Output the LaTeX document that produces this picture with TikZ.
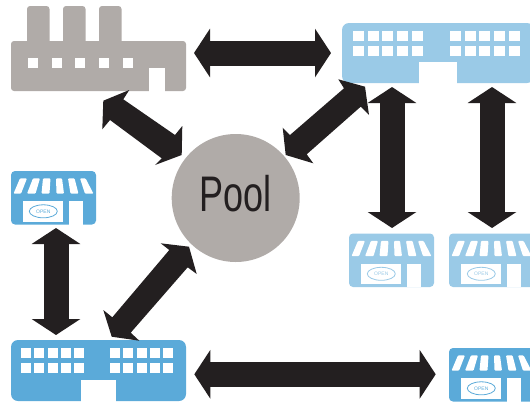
\documentclass[tikz,border=0pt]{standalone}
\usepackage{fontspec}
\setmainfont{Liberation Sans}
\newfontfamily\poolfont{Liberation Sans}[FakeStretch=0.72]
\usetikzlibrary{arrows.meta}
\definecolor{stonegrey}{HTML}{B0ABA8}
\definecolor{paleblue}{HTML}{9ACAE7}
\definecolor{midblue}{HTML}{5BAAD9}
\definecolor{inkblack}{HTML}{231F20}
\tikzset{
  iconbody/.style={anchor=north west,inner sep=0pt,outer sep=0pt,rounded corners=4pt},
  hole/.style={fill=white,draw=none},
  flow/.style={draw=inkblack,line width=25pt,{Triangle[length=16pt,width=48pt,fill=inkblack]}-{Triangle[length=16pt,width=48pt,fill=inkblack]}},
  slantflow/.style={fill=inkblack,draw=none},
}
\newcommand{\shopicon}[4]{%
  \node[iconbody,fill=#4,minimum width=85pt,minimum height=53.5pt] (#1) at (#2,#3) {};
  \begin{scope}[shift={(#2,#3)}]
    \foreach \ta/\tb/\ba/\bb in {9/16/2.5/10,22/29/16/24.5,32/39.5/30.5/38.5,45/51/45.5/53,57/63.5/59.5/67.5,69/74.5/74/82.5}{
      \fill[hole,rounded corners=1pt] (\ta,7.3) -- (\tb,7.3) -- (\bb,22.7) -- (\ba,22.7) -- cycle;
    }
    \fill[hole] (12.3,30) rectangle (52.3,50.7);
    \fill[hole] (58,30) rectangle (72.3,53.6);
    \draw[#4,line width=0.8pt] (32.3,40.3) ellipse [x radius=14,y radius=6.5];
    \node[inner sep=0pt,text=#4,font=\fontsize{5}{5}\selectfont] (#1label) at (32.3,40.3) {OPEN};
  \end{scope}
}
\begin{document}
\begin{tikzpicture}[x=1pt,y=-1pt]
\useasboundingbox (0,0) rectangle (530,402);
\clip (0,0) rectangle (530,402);

% factory
\foreach \cx in {27,63,99}{
  \fill[stonegrey,rounded corners=3pt] (\cx,6) rectangle (\cx+22.5,50);
}
\node[iconbody,fill=stonegrey,minimum width=175pt,minimum height=50pt,rounded corners=3pt] (factory) at (11,41) {};
\foreach \wx in {28,51.7,75.3,99,122.5}{
  \fill[hole] (\wx,58) rectangle (\wx+10,68);
}
\fill[hole] (149,68) rectangle (164.5,92);

% upper warehouse
\node[iconbody,fill=paleblue,minimum width=192pt,minimum height=60pt,rounded corners=7pt] (upper) at (342,23) {};
\foreach \wx in {353,367.7,382.3,397,411.5,450,464.7,479.3,494,508.5}{
  \fill[hole] (\wx,31) rectangle (\wx+11,41);
  \fill[hole] (\wx,46) rectangle (\wx+11,56);
}
\fill[hole] (419,62) rectangle (457,84);

% lower warehouse
\node[iconbody,fill=midblue,minimum width=175pt,minimum height=61pt,rounded corners=7pt] (lower) at (11,340) {};
\foreach \wx in {21,34.3,47.7,61,74.3,110,123.3,136.7,150,163.3}{
  \fill[hole] (\wx,348) rectangle (\wx+10,358);
  \fill[hole] (\wx,363) rectangle (\wx+10,373);
}
\fill[hole] (81.3,379.5) rectangle (116,402);

% shops
\shopicon{shopA}{11}{171}{midblue}
\shopicon{shopB}{349}{233.5}{paleblue}
\shopicon{shopC}{449}{233.5}{paleblue}
\shopicon{shopD}{449}{348}{midblue}

% pool
\node[circle,fill=stonegrey,minimum size=128pt,inner sep=0pt] (pool) at (235.7,198) {};
\node[text=inkblack,inner sep=0pt,font=\poolfont\fontsize{50}{50}\selectfont] (poollabel) at (235.7,194) {Pool};

% connector ends
\coordinate (fRight) at (194,53);
\coordinate (uLeft) at (331,53);
\coordinate (fPool) at (103.3,100.7);
\coordinate (pFact) at (181.7,155);
\coordinate (uPool) at (365,86.7);
\coordinate (pUp) at (285.7,155);
\coordinate (u1) at (392,87);
\coordinate (b1) at (392,228);
\coordinate (u2) at (492,87);
\coordinate (c1) at (492,228);
\coordinate (a1) at (56,228);
\coordinate (l1) at (56,335);
\coordinate (pLow) at (189,246.7);
\coordinate (lPool) at (111.7,336.7);
\coordinate (lRight) at (194.3,374.3);
\coordinate (dLeft) at (435.7,374.3);

% connectors
\draw[flow] (fRight) -- (uLeft);
\draw[flow] (u1) -- (b1);
\draw[flow] (u2) -- (c1);
\draw[flow] (a1) -- (l1);
\draw[flow] (lRight) -- (dLeft);
\fill[slantflow] (fPool) -- (129.3,90) -- (123.3,99.3) -- (175,135) -- (182.3,126) -- (pFact) -- (155,165) -- (161.7,158.3) -- (110,120) -- (102.3,129.3) -- cycle;
\fill[slantflow] (uPool) -- (369,115) -- (360.7,106.7) -- (306.7,154.3) -- (313.3,163.3) -- (pUp) -- (282.7,127.7) -- (290,135) -- (344,88.3) -- (338.3,79.3) -- cycle;
\fill[slantflow] (pLow) -- (196.7,274) -- (187.7,267.3) -- (130.7,332.7) -- (139.3,340.7) -- (lPool) -- (103.3,310) -- (112.3,317.3) -- (169.3,250) -- (160.7,243.3) -- cycle;
\end{tikzpicture}
\end{document}
